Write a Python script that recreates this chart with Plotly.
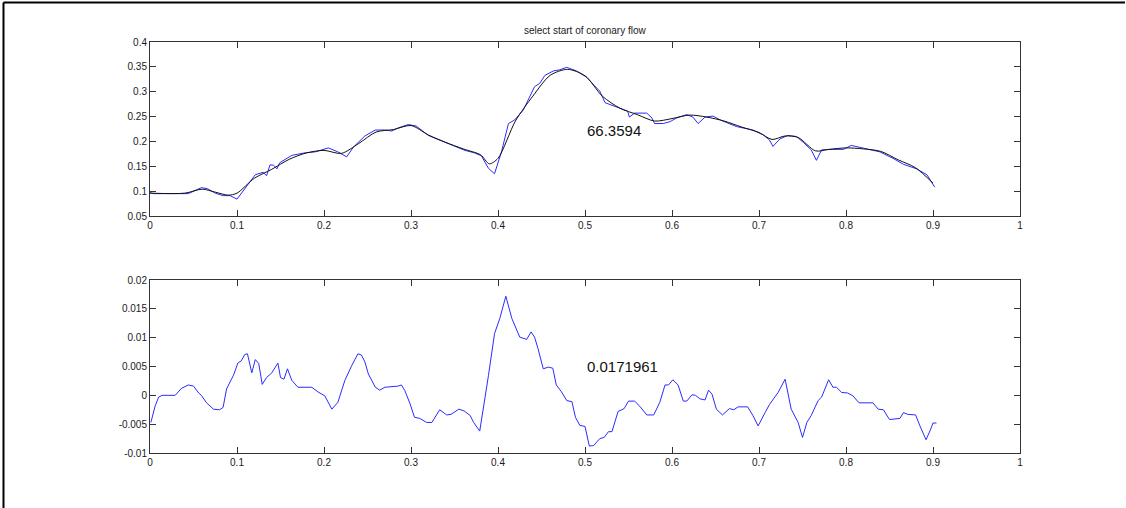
import plotly.graph_objects as go

# ---- coronary flow trace (raw samples) ----
t_raw = [0.000, 0.004, 0.044, 0.052, 0.059, 0.066, 0.075, 0.084, 0.092, 0.100,
         0.109, 0.121, 0.130, 0.134, 0.138, 0.142, 0.146, 0.149, 0.163, 0.178,
         0.190, 0.205, 0.216, 0.226, 0.234, 0.247, 0.259, 0.270, 0.278, 0.285,
         0.297, 0.306, 0.320, 0.339, 0.350, 0.362, 0.373, 0.381, 0.389, 0.396,
         0.404, 0.412, 0.419, 0.429, 0.442, 0.448, 0.454, 0.464, 0.471, 0.479,
         0.490, 0.502, 0.511, 0.517, 0.523, 0.531, 0.540, 0.549, 0.551, 0.557,
         0.571, 0.577, 0.580, 0.590, 0.598, 0.605, 0.617, 0.624, 0.630, 0.638,
         0.647, 0.657, 0.674, 0.693, 0.705, 0.712, 0.716, 0.724, 0.733, 0.743,
         0.751, 0.760, 0.766, 0.772, 0.785, 0.797, 0.806, 0.816, 0.827, 0.839,
         0.854, 0.866, 0.881, 0.893, 0.902]
flow_raw = [0.097, 0.095, 0.095, 0.101, 0.107, 0.105, 0.096, 0.091, 0.091, 0.084,
            0.104, 0.133, 0.138, 0.131, 0.153, 0.152, 0.145, 0.157, 0.172, 0.177,
            0.179, 0.187, 0.179, 0.169, 0.189, 0.211, 0.223, 0.223, 0.221, 0.227,
            0.234, 0.231, 0.212, 0.198, 0.191, 0.182, 0.177, 0.171, 0.146, 0.135,
            0.179, 0.236, 0.243, 0.263, 0.310, 0.317, 0.333, 0.342, 0.344, 0.349,
            0.342, 0.329, 0.312, 0.301, 0.278, 0.273, 0.266, 0.261, 0.249, 0.257,
            0.257, 0.247, 0.236, 0.236, 0.240, 0.247, 0.254, 0.249, 0.236, 0.249,
            0.251, 0.242, 0.230, 0.223, 0.213, 0.203, 0.190, 0.205, 0.212, 0.210,
            0.198, 0.183, 0.162, 0.183, 0.184, 0.184, 0.192, 0.188, 0.183, 0.179,
            0.166, 0.154, 0.145, 0.133, 0.108]

# ---- smoothed flow ----
t_smooth = [0.000, 0.040, 0.060, 0.075, 0.090, 0.100, 0.120, 0.140, 0.160, 0.180,
            0.200, 0.220, 0.240, 0.260, 0.280, 0.300, 0.320, 0.340, 0.360, 0.380,
            0.390, 0.400, 0.420, 0.440, 0.460, 0.480, 0.500, 0.520, 0.540, 0.560,
            0.580, 0.600, 0.620, 0.640, 0.660, 0.680, 0.700, 0.715, 0.730, 0.745,
            0.765, 0.780, 0.800, 0.820, 0.840, 0.860, 0.880, 0.900]
flow_smooth = [0.096, 0.096, 0.104, 0.098, 0.092, 0.096, 0.126, 0.144, 0.164, 0.177,
               0.182, 0.176, 0.196, 0.219, 0.224, 0.232, 0.213, 0.198, 0.185, 0.173,
               0.155, 0.166, 0.241, 0.291, 0.333, 0.345, 0.332, 0.291, 0.267, 0.254,
               0.241, 0.246, 0.253, 0.249, 0.241, 0.229, 0.218, 0.204, 0.211, 0.208,
               0.181, 0.184, 0.187, 0.185, 0.180, 0.163, 0.147, 0.116]

# ---- flow derivative ----
t_deriv = [0.001, 0.006, 0.010, 0.014, 0.029, 0.036, 0.044, 0.050, 0.056, 0.059,
           0.065, 0.073, 0.080, 0.084, 0.088, 0.096, 0.101, 0.105, 0.109, 0.112,
           0.117, 0.121, 0.125, 0.129, 0.134, 0.140, 0.147, 0.150, 0.154, 0.158,
           0.163, 0.170, 0.186, 0.193, 0.201, 0.209, 0.216, 0.224, 0.232, 0.239,
           0.243, 0.247, 0.251, 0.259, 0.264, 0.270, 0.285, 0.289, 0.293, 0.299,
           0.304, 0.310, 0.318, 0.324, 0.333, 0.341, 0.346, 0.355, 0.361, 0.368,
           0.372, 0.379, 0.389, 0.396, 0.402, 0.409, 0.416, 0.425, 0.433, 0.438,
           0.442, 0.446, 0.452, 0.458, 0.463, 0.467, 0.473, 0.479, 0.485, 0.489,
           0.494, 0.500, 0.505, 0.510, 0.517, 0.522, 0.527, 0.531, 0.538, 0.545,
           0.550, 0.557, 0.563, 0.571, 0.579, 0.586, 0.592, 0.596, 0.601, 0.607,
           0.613, 0.617, 0.623, 0.627, 0.632, 0.638, 0.642, 0.646, 0.651, 0.658,
           0.666, 0.671, 0.676, 0.687, 0.693, 0.699, 0.707, 0.712, 0.722, 0.730,
           0.737, 0.745, 0.750, 0.755, 0.760, 0.768, 0.772, 0.776, 0.780, 0.785,
           0.789, 0.795, 0.802, 0.808, 0.815, 0.831, 0.837, 0.843, 0.850, 0.862,
           0.866, 0.871, 0.880, 0.885, 0.892, 0.897, 0.900, 0.904]
dflow = [-0.0047, -0.0018, -0.0003, 0.0000, 0.0000, 0.0012, 0.0018, 0.0016, 0.0004, 0.0000,
         -0.0013, -0.0024, -0.0025, -0.0021, 0.0011, 0.0035, 0.0056, 0.0060, 0.0071, 0.0072,
         0.0039, 0.0062, 0.0055, 0.0019, 0.0031, 0.0039, 0.0056, 0.0031, 0.0028, 0.0046,
         0.0026, 0.0014, 0.0014, 0.0006, -0.0001, -0.0024, -0.0012, 0.0026, 0.0052, 0.0072,
         0.0070, 0.0058, 0.0037, 0.0014, 0.0009, 0.0014, 0.0016, 0.0018, 0.0008, -0.0015,
         -0.0038, -0.0040, -0.0047, -0.0047, -0.0025, -0.0034, -0.0033, -0.0024, -0.0027, -0.0035,
         -0.0047, -0.0062, 0.0034, 0.0107, 0.0133, 0.0171961, 0.0133, 0.0101, 0.0097, 0.0110,
         0.0101, 0.0081, 0.0046, 0.0049, 0.0047, 0.0018, 0.0006, -0.0009, -0.0011, -0.0038,
         -0.0052, -0.0054, -0.0088, -0.0087, -0.0075, -0.0073, -0.0063, -0.0063, -0.0028, -0.0023,
         -0.0010, -0.0010, -0.0019, -0.0034, -0.0034, -0.0012, 0.0018, 0.0018, 0.0027, 0.0018,
         -0.0010, -0.0010, 0.0001, 0.0000, -0.0006, -0.0008, 0.0009, 0.0002, -0.0024, -0.0034,
         -0.0023, -0.0025, -0.0020, -0.0020, -0.0035, -0.0053, -0.0030, -0.0016, 0.0005, 0.0028,
         -0.0024, -0.0047, -0.0073, -0.0047, -0.0035, -0.0009, -0.0003, 0.0011, 0.0027, 0.0014,
         0.0014, 0.0005, 0.0004, -0.0001, -0.0013, -0.0013, -0.0024, -0.0025, -0.0042, -0.0040,
         -0.0030, -0.0033, -0.0034, -0.0053, -0.0077, -0.0060, -0.0048, -0.0048]

x_ticks = [0, 0.1, 0.2, 0.3, 0.4, 0.5, 0.6, 0.7, 0.8, 0.9, 1]
x_ticklabels = ["0", "0.1", "0.2", "0.3", "0.4", "0.5", "0.6", "0.7", "0.8", "0.9", "1"]
flow_ticks = [0.05, 0.1, 0.15, 0.2, 0.25, 0.3, 0.35, 0.4]
flow_ticklabels = ["0.05", "0.1", "0.15", "0.2", "0.25", "0.3", "0.35", "0.4"]
dflow_ticks = [-0.01, -0.005, 0, 0.005, 0.01, 0.015, 0.02]
dflow_ticklabels = ["-0.01", "-0.005", "0", "0.005", "0.01", "0.015", "0.02"]

title_text = "select start of coronary flow"
onset_value = 66.3594
label_pos = (0.5, 0.222, 0.005)

BLUE = "#2b2bff"
AXIS = "#333333"
FONT = "Liberation Sans, Arial, sans-serif"

fig = go.Figure()
fig.add_trace(go.Scatter(x=t_raw, y=flow_raw, mode="lines",
                         line=dict(color=BLUE, width=1), xaxis="x", yaxis="y"))
fig.add_trace(go.Scatter(x=t_smooth, y=flow_smooth, mode="lines",
                         line=dict(color="#111111", width=1, shape="spline", smoothing=0.8),
                         xaxis="x", yaxis="y"))
fig.add_trace(go.Scatter(x=t_deriv, y=dflow, mode="lines",
                         line=dict(color=BLUE, width=1), xaxis="x2", yaxis="y2"))

axis_common = dict(showgrid=False, zeroline=False, showline=True, linecolor=AXIS,
                   linewidth=1, mirror="ticks", ticks="inside", ticklen=6,
                   tickcolor=AXIS, tickwidth=1,
                   tickfont=dict(family=FONT, size=10, color="#1a1a1a"))

fig.update_layout(
    width=1126, height=508,
    margin=dict(l=150, r=106, t=42, b=55),
    paper_bgcolor="white", plot_bgcolor="white",
    showlegend=False,
    xaxis=dict(domain=[0, 1], range=[0, 1], tickvals=x_ticks, ticktext=x_ticklabels,
               anchor="y", **axis_common),
    yaxis=dict(domain=[0.5766, 1.0], range=[0.05, 0.4], tickvals=flow_ticks,
               ticktext=flow_ticklabels, anchor="x", **axis_common),
    xaxis2=dict(domain=[0, 1], range=[0, 1], tickvals=x_ticks, ticktext=x_ticklabels,
                anchor="y2", **axis_common),
    yaxis2=dict(domain=[0, 0.4209], range=[-0.01, 0.02], tickvals=dflow_ticks,
                ticktext=dflow_ticklabels, anchor="x2", **axis_common),
    annotations=[
        dict(text=title_text, xref="paper", yref="paper", x=0.5, y=1.0,
             xanchor="center", yanchor="bottom", yshift=4, showarrow=False,
             font=dict(family=FONT, size=10, color="#1a1a1a")),
        dict(text=f"{onset_value:g}", xref="x", yref="y", x=label_pos[0], y=label_pos[1],
             xanchor="left", yanchor="middle", showarrow=False,
             font=dict(family=FONT, size=15, color="#111111")),
        dict(text=f"{max(dflow):g}", xref="x2", yref="y2", x=label_pos[0], y=label_pos[2],
             xanchor="left", yanchor="middle", showarrow=False,
             font=dict(family=FONT, size=15, color="#111111")),
    ],
    shapes=[
        # figure frame
        dict(type="line", xref="paper", yref="paper", x0=-0.1684, x1=-0.1684,
             y0=-0.15, y1=1.0961, line=dict(color="black", width=2)),
        dict(type="line", xref="paper", yref="paper", x0=-0.1684, x1=1.1207,
             y0=1.0961, y1=1.0961, line=dict(color="black", width=2)),
    ],
)

fig.write_html("out.html")
